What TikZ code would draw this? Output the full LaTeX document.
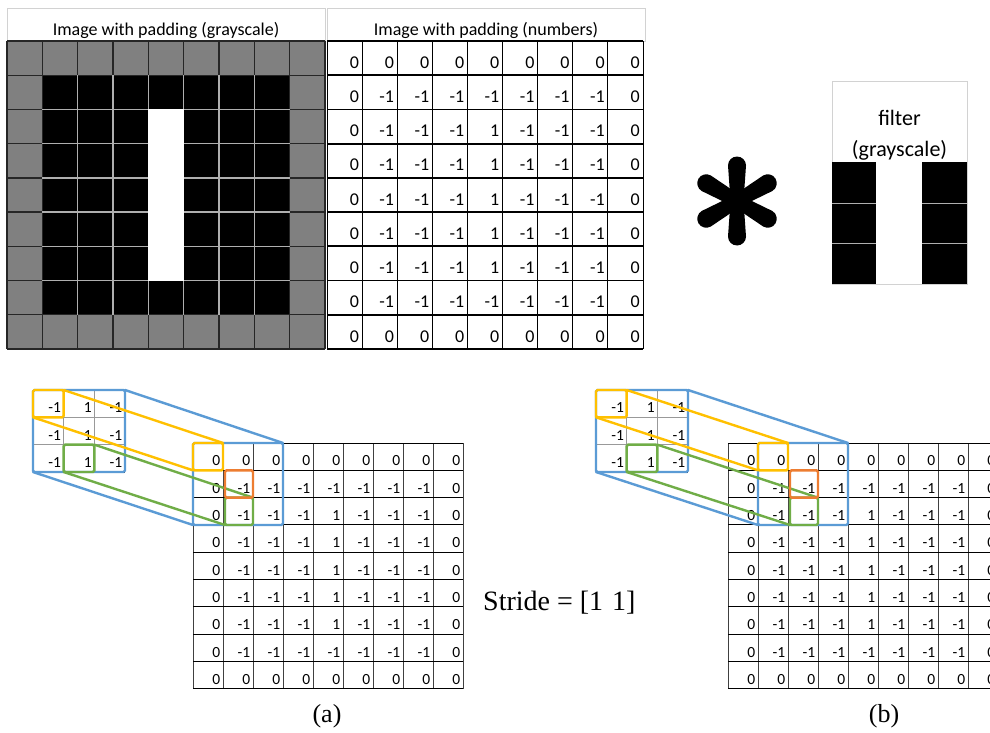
\documentclass[tikz,border=0pt]{standalone}
\usepackage{fontspec}
\setmainfont{Liberation Serif}
\newfontfamily\calib{Carlito}
\definecolor{oblue}{RGB}{91,155,213}
\definecolor{oyellow}{RGB}{255,192,0}
\definecolor{ogreen}{RGB}{112,173,71}
\definecolor{oorange}{RGB}{237,125,49}
\definecolor{cellgray}{RGB}{128,128,128}
\definecolor{gridlight}{RGB}{175,175,175}
\definecolor{hdrgray}{RGB}{210,210,210}
\newcommand\valof[2]{%
 \ifnum#1=0 0\else\ifnum#1=8 0\else\ifnum#2=0 0\else\ifnum#2=8 0\else
 \ifnum#2=4 \ifnum#1>1 \ifnum#1<7 1\else -1\fi\else -1\fi\else -1\fi\fi\fi\fi\fi}
\tikzset{
 numt/.style={anchor=base east, inner sep=0pt, font=\calib\fontsize{18}{20}\selectfont},
 numb/.style={anchor=base east, inner sep=0pt, font=\calib\fontsize{15.5}{17}\selectfont},
 hdr/.style={anchor=base, inner sep=0pt, font=\calib\fontsize{18}{20}\selectfont},
 flt/.style={anchor=base, inner sep=0pt, font=\calib\fontsize{22}{24}\selectfont},
 hl/.style={draw=#1, line width=2.4pt, rounded corners=1.5pt, inner sep=0pt, outer sep=0pt, anchor=north west},
 link/.style={draw=#1, line width=2.4pt, line cap=round},
 gdark/.style={draw=black!85, line width=1.3pt},
 glight/.style={draw=gridlight, line width=1.3pt},
 hline/.style={draw=black, line width=1pt},
 vline/.style={draw=black!75, line width=0.8pt},
 sline/.style={draw=black!40, line width=0.8pt},
}
\newcommand\biggrid[3]{%
 \foreach \r in {0,...,8}{\foreach \c in {0,...,8}{
   \node[numb] (#1-\r-\c) at ({#2+(\c+1)*30-2.5},{#3+\r*27.33+22.8}) {\valof{\r}{\c}};
 }}
 \foreach \c in {0,...,9} \draw[vline] ({#2+\c*30},#3) -- ++(0,246);
 \foreach \r in {0,...,9} \draw[hline] (#2,{#3+\r*27.33}) -- ++(270,0);
}
\newcommand\smallgrid[2]{%
 \foreach \r in {0,1,2}{\foreach \c/\v in {0/-1,1/1,2/-1}{
   \node[numb] (#1-\r-\c) at ({#2+(\c+1)*30.67-2.5},{390+\r*27.33+22.8}) {\v};}}
 \foreach \c in {1,2} \draw[sline] ({#2+\c*30.67},390) -- ++(0,82);
 \foreach \r in {1,2} \draw[sline] (#2,{390+\r*27.33}) -- ++(92,0);
 \draw[hline] (#2,472) -- ++(92,0);
}
\newcommand\overlaygrp[3]{% prefix, small x0, big blue x0
 \node[hl=oblue, minimum width=92pt, minimum height=82pt] (#1sb) at (#2,390) {};
 \node[hl=oblue, minimum width=90pt, minimum height=82pt] (#1bb) at (#3,443) {};
 \draw[link=oblue] (#1sb.north east) -- (#1bb.north east);
 \draw[link=oblue] (#1sb.south west) -- (#1bb.south west);
 \node[hl=oyellow, minimum width=30.67pt, minimum height=27.33pt] (#1sy) at (#2,390) {};
 \node[hl=oyellow, minimum width=30pt, minimum height=27.33pt] (#1by) at (#3,443) {};
 \draw[link=oyellow] (#1sy.north east) -- (#1by.north east);
 \draw[link=oyellow] (#1sy.south west) -- (#1by.south west);
 \node[hl=ogreen, minimum width=30.67pt, minimum height=27.33pt] (#1sg) at ({#2+30.67},444.67) {};
 \node[hl=ogreen, minimum width=28pt, minimum height=27.33pt] (#1bg) at ({#3+32},497.67) {};
 \draw[link=ogreen] (#1sg.north east) -- (#1bg.north east);
 \draw[link=ogreen] (#1sg.south west) -- (#1bg.south west);
 \node[hl=oorange, minimum width=28pt, minimum height=27.33pt] (#1bo) at ({#3+32},470.33) {};
}
\begin{document}
\begin{tikzpicture}[x=1pt,y=-1pt]
\useasboundingbox (0,0) rectangle (990,733);
\clip (0,0) rectangle (990,733);
\fill[white] (0,0) rectangle (990,733);
% ---------- header boxes
\draw[hdrgray, line width=0.7pt] (7,8) rectangle (325,41);
\draw[hdrgray, line width=0.7pt] (327,8) rectangle (645,41);
\node[hdr] (hg) at (166,36) {Image with padding (grayscale)};
\node[hdr] (hn) at (486,36) {Image with padding (numbers)};
% ---------- grayscale image
\foreach \r in {0,...,8}{\foreach \c in {0,...,8}{
  \def\fc{black}
  \ifnum\r=0 \def\fc{cellgray}\fi
  \ifnum\r=8 \def\fc{cellgray}\fi
  \ifnum\c=0 \def\fc{cellgray}\fi
  \ifnum\c=8 \def\fc{cellgray}\fi
  \fill[\fc] ({7+\c*35.33},{41+\r*34.22}) rectangle ++(35.33,34.22);
}}
\foreach \r in {0,...,9} \draw[gdark] (7,{41+\r*34.22}) -- (325,{41+\r*34.22});
\foreach \c in {0,...,9} \draw[gdark] ({7+\c*35.33},41) -- ++(0,308);
\foreach \r in {2,...,7} \draw[glight] ({7+35.33},{41+\r*34.22}) -- ({7+8*35.33},{41+\r*34.22});
\foreach \c in {2,...,7} \draw[glight] ({7+\c*35.33},{41+34.22}) -- ({7+\c*35.33},{41+8*34.22});
\fill[white] ({7+4*35.33},{41+2*34.22}) rectangle ({7+5*35.33},{41+7*34.22});
% ---------- number image
\foreach \r in {0,...,8}{\foreach \c in {0,...,8}{
  \node[numt] (t-\r-\c) at ({327+(\c+1)*35.11-3},{41+\r*34.22+27.3}) {\valof{\r}{\c}};
}}
\foreach \c in {0,...,9} \draw[black, line width=0.9pt] ({327+\c*35.11},41) -- ++(0,308);
\foreach \r in {0,...,9} \draw[black, line width=1.7pt] (327,{41+\r*34.22}) -- ++(316,0);
% ---------- asterisk
\begin{scope}[shift={(737,201)}]
\foreach \a in {90,30,-30,-90,-150,150}{
  \fill[black, rotate=\a] (0,-6.5) -- (35.5,-9) arc[start angle=-90,end angle=90,radius=9] -- (0,6.5) -- cycle;
}
\end{scope}
% ---------- filter
\draw[hdrgray, line width=0.7pt] (832,81) rectangle (967,284);
\fill[black] (832,162) rectangle (876,284);
\fill[black] (922,162) rectangle (967,284);
\foreach \y in {203,243}{
  \draw[gridlight, line width=1pt] (832,\y) -- (876,\y);
  \draw[gridlight, line width=1pt] (922,\y) -- (967,\y);
}
\node[flt] (fl1) at (899.5,125) {filter};
\node[flt] (fl2) at (899.5,156) {(grayscale)};
% ---------- bottom (a)
\biggrid{a}{193}{443}
\smallgrid{as}{33}
\overlaygrp{a}{33}{193}
% ---------- bottom (b)
\biggrid{b}{728}{443}
\smallgrid{bs}{596}
\overlaygrp{b}{596}{758}
% ---------- labels
\node[anchor=base west, inner sep=0pt, font=\fontsize{28}{30}\selectfont] (stride) at (483,610) {Stride = [1\hspace{0.32em}1]};
\node[anchor=base, inner sep=0pt, font=\fontsize{26}{28}\selectfont] (la) at (327,722) {(a)};
\node[anchor=base, inner sep=0pt, font=\fontsize{26}{28}\selectfont] (lb) at (884,722) {(b)};
\end{tikzpicture}
\end{document}
